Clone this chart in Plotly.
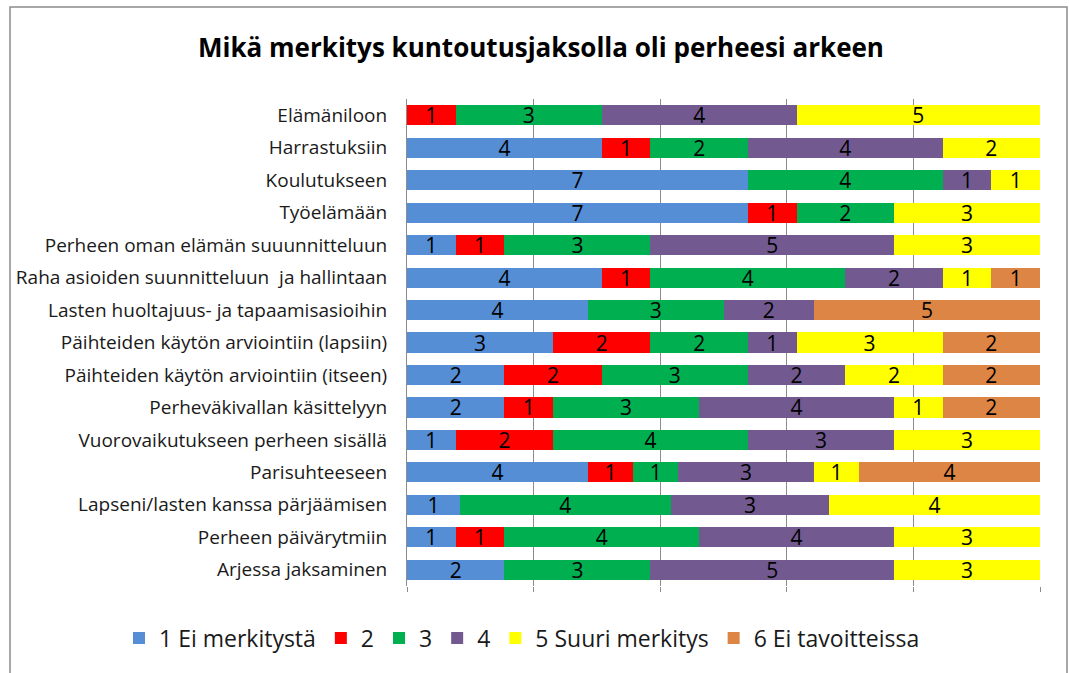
import plotly.graph_objects as go

categories = [
    "Elämäniloon",
    "Harrastuksiin",
    "Koulutukseen",
    "Työelämään",
    "Perheen oman elämän suuunnitteluun",
    "Raha asioiden suunnitteluun  ja hallintaan",
    "Lasten huoltajuus- ja tapaamisasioihin",
    "Päihteiden käytön arviointiin (lapsiin)",
    "Päihteiden käytön arviointiin (itseen)",
    "Perheväkivallan käsittelyyn",
    "Vuorovaikutukseen perheen sisällä",
    "Parisuhteeseen",
    "Lapseni/lasten kanssa pärjäämisen",
    "Perheen päivärytmiin",
    "Arjessa jaksaminen",
]

series_names = ["1 Ei merkitystä", "2", "3", "4", "5 Suuri merkitys", "6 Ei tavoitteissa"]

s1 = [0, 4, 7, 7, 1, 4, 4, 3, 2, 2, 1, 4, 1, 1, 2]
s2 = [1, 1, 0, 1, 1, 1, 0, 2, 2, 1, 2, 1, 0, 1, 0]
s3 = [3, 2, 4, 2, 3, 4, 3, 2, 3, 3, 4, 1, 4, 4, 3]
s4 = [4, 4, 1, 0, 5, 2, 2, 1, 2, 4, 3, 3, 3, 4, 5]
s5 = [5, 2, 1, 3, 3, 1, 0, 3, 2, 1, 3, 1, 4, 3, 3]
s6 = [0, 0, 0, 0, 0, 1, 5, 2, 2, 2, 0, 4, 0, 0, 0]

series_values = [s1, s2, s3, s4, s5, s6]
colors = ["#558ED5", "#FF0000", "#00B050", "#725A90", "#FFFF00", "#DD8544"]

FONT = "Open Sans"

fig = go.Figure()
for name, vals, col in zip(series_names, series_values, colors):
    fig.add_trace(go.Bar(
        y=categories, x=vals, name=name, orientation="h",
        marker=dict(color=col, line=dict(width=0)),
        text=[str(v) if v else "" for v in vals],
        textposition="inside", insidetextanchor="middle", textangle=0,
        textfont=dict(family=FONT, size=21, color="black"),
        constraintext="none",
        hoverinfo="x+y+name",
    ))

L, R, T, B = 407, 1040, 99, 586
W, H = 1069, 673
pw, ph = R - L, B - T

def px_x(x):
    return (x - L) / pw

def px_y(y):
    return (B - y) / ph

fig.update_layout(
    width=W, height=H,
    barmode="stack", barnorm="percent", bargap=0.38,
    margin=dict(l=L, r=W - R, t=T, b=H - B, pad=0, autoexpand=False),
    paper_bgcolor="white", plot_bgcolor="white",
    font=dict(family=FONT, color="#1a1a1a"),
    title=dict(text="<b>Mikä merkitys kuntoutusjaksolla oli perheesi arkeen</b>",
               x=541 / W, xref="container", xanchor="center",
               y=1 - 48 / H, yref="container", yanchor="middle",
               font=dict(family=FONT, size=26, color="black")),
    xaxis=dict(range=[0, 100], dtick=20, showticklabels=False,
               showgrid=True, gridcolor="#8c8c8c", gridwidth=1,
               ticks="outside", ticklen=5, tickcolor="#8c8c8c",
               zeroline=False, showline=False, fixedrange=True,
               automargin=False),
    yaxis=dict(autorange="reversed", showline=True, linecolor="#8c8c8c",
               linewidth=1, ticks="", ticklabelstandoff=15,
               tickfont=dict(family=FONT, size=19, color="#1a1a1a"),
               showgrid=False, fixedrange=True, automargin=False),
    legend=dict(orientation="h", x=px_x(119), xanchor="left",
                y=px_y(638), yanchor="middle",
                font=dict(family=FONT, size=23, color="#1a1a1a"),
                traceorder="normal", tracegroupgap=0),
    showlegend=True,
    shapes=[dict(type="rect", xref="paper", yref="paper",
                 x0=px_x(10), x1=px_x(1067), y0=px_y(690), y1=px_y(7),
                 line=dict(color="#8c8c8c", width=1.5), layer="below")],
)

fig.write_html("out.html")
